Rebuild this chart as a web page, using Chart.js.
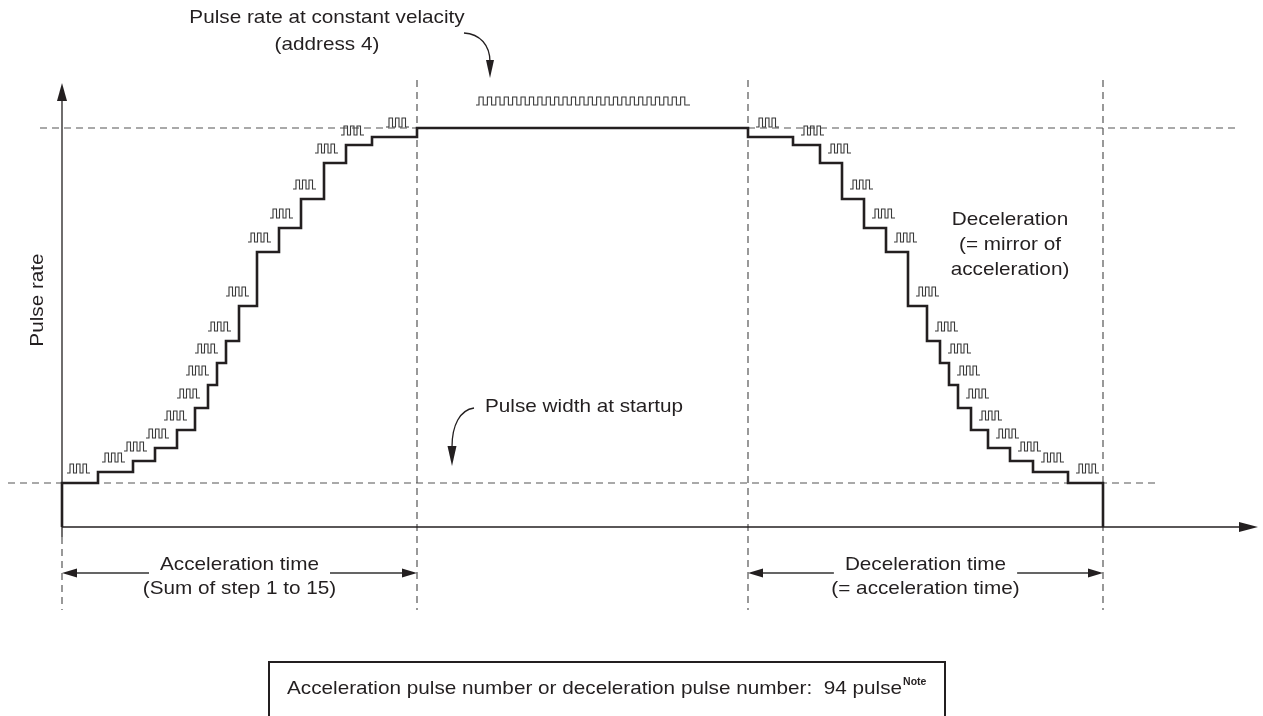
<!DOCTYPE html>
<html>
<head>
<meta charset="utf-8">
<script src="https://cdn.jsdelivr.net/npm/chart.js@4/dist/chart.umd.min.js"></script>
<style>
  html, body { margin: 0; padding: 0; background: #ffffff; }
  #wrap { width: 1263px; height: 716px; }
</style>
</head>
<body>
<div id="wrap"><canvas id="c" width="1263" height="716"></canvas></div>
<script>
// ---- data (time units / pulse-rate units) ----
const accelStepTimes = [0, 36, 71, 93, 115, 133, 146, 155, 164, 177, 195, 217, 239, 262, 284, 310, 355];
const accelStepRates = [44, 55, 66, 79, 97, 119, 142, 164, 186, 221, 275, 299, 328, 364, 382, 390];
const constantRate = 399;
const decelStepTimes = [686, 731, 758, 780, 802, 824, 846, 865, 878, 887, 896, 909, 926, 948, 971, 1006, 1041];
const decelStepRates = [390, 382, 364, 328, 299, 275, 221, 186, 164, 142, 119, 97, 79, 66, 55, 44];
const constantPulseCount = 25;
const pulseNumber = 94;

// labels
const titleTop = ["Pulse rate at constant velacity", "(address 4)"];
const startupLabel = "Pulse width at startup";
const decelNote = ["Deceleration", "(= mirror of", "acceleration)"];
const accelTimeLabel = ["Acceleration time", "(Sum of step 1 to 15)"];
const decelTimeLabel = ["Deceleration time", "(= acceleration time)"];
const yAxisLabel = "Pulse rate";
const boxText = "Acceleration pulse number or deceleration pulse number:  " + pulseNumber + " pulse";
const boxSup = "Note";

// ---- build the stepped profile from the arrays ----
const profile = [{x: accelStepTimes[0], y: 0}];
for (let i = 0; i < accelStepRates.length; i++) {
  profile.push({x: accelStepTimes[i], y: accelStepRates[i]});
  profile.push({x: accelStepTimes[i + 1], y: accelStepRates[i]});
}
profile.push({x: accelStepTimes[accelStepTimes.length - 1], y: constantRate});
profile.push({x: decelStepTimes[0], y: constantRate});
for (let i = 0; i < decelStepRates.length; i++) {
  profile.push({x: decelStepTimes[i], y: decelStepRates[i]});
  profile.push({x: decelStepTimes[i + 1], y: decelStepRates[i]});
}
profile.push({x: decelStepTimes[decelStepTimes.length - 1], y: 0});

const FONT = '"Liberation Sans", Arial, Helvetica, sans-serif';
const SX = 1.12;
const INK = '#231f20';

function text(ctx, s, x, y, align, size, bold, sx) {
  ctx.save();
  ctx.font = (bold ? 'bold ' : '') + size + 'px ' + FONT;
  ctx.textBaseline = 'middle';
  ctx.textAlign = align || 'center';
  ctx.fillStyle = INK;
  ctx.translate(x, y);
  ctx.scale(sx || SX, 1);
  ctx.fillText(s, 0, 0);
  ctx.restore();
}
function textWidth(ctx, s, size, bold, sx) {
  ctx.save();
  ctx.font = (bold ? 'bold ' : '') + size + 'px ' + FONT;
  const w = ctx.measureText(s).width * (sx || SX);
  ctx.restore();
  return w;
}
function dashLine(ctx, x1, y1, x2, y2) {
  ctx.save();
  ctx.strokeStyle = '#555';
  ctx.lineWidth = 1.2;
  ctx.setLineDash([7, 5]);
  ctx.beginPath(); ctx.moveTo(x1, y1); ctx.lineTo(x2, y2); ctx.stroke();
  ctx.restore();
}
function head(ctx, tipX, tipY, dirX, dirY, len, hw) {
  const bx = tipX - dirX * len, by = tipY - dirY * len;
  const px = -dirY, py = dirX;
  ctx.beginPath();
  ctx.moveTo(tipX, tipY);
  ctx.lineTo(bx + px * hw, by + py * hw);
  ctx.lineTo(bx - px * hw, by - py * hw);
  ctx.closePath();
  ctx.fill();
}
function pulseIcon(ctx, left, bottom) {
  const h = 9;
  const seq = [3, 3.5, 3, 3.5, 3, 3.5, 3.5]; // low, high, low, high, low, high, low
  ctx.save();
  ctx.strokeStyle = '#3a3a3a';
  ctx.lineWidth = 1.1;
  ctx.beginPath();
  let x = left, high = false;
  ctx.moveTo(x, bottom);
  for (let i = 0; i < seq.length; i++) {
    x += seq[i];
    ctx.lineTo(x, high ? bottom - h : bottom);
    if (i < seq.length - 1) {
      high = !high;
      ctx.lineTo(x, high ? bottom - h : bottom);
    }
  }
  ctx.stroke();
  ctx.restore();
}

const decor = {
  id: 'decor',
  beforeDatasetsDraw(chart) {
    const ctx = chart.ctx, xs = chart.scales.x, ys = chart.scales.y;
    const X = v => xs.getPixelForValue(v), Y = v => ys.getPixelForValue(v);
    const x0 = X(accelStepTimes[0]);
    const xA = X(accelStepTimes[accelStepTimes.length - 1]);
    const xD = X(decelStepTimes[0]);
    const xE = X(decelStepTimes[decelStepTimes.length - 1]);
    const yTop = Y(constantRate), yBase = Y(accelStepRates[0]), yAxis = Y(0);
    // dashed guide lines
    dashLine(ctx, 40, yTop, 1240, yTop);
    dashLine(ctx, 8, yBase, 1155, yBase);
    dashLine(ctx, xA, 80, xA, 610);
    dashLine(ctx, xD, 80, xD, 610);
    dashLine(ctx, xE, 80, xE, 610);
    dashLine(ctx, x0, yAxis + 10, x0, 610);
    // axes
    ctx.save();
    ctx.strokeStyle = INK; ctx.fillStyle = INK; ctx.lineWidth = 1.3;
    ctx.beginPath(); ctx.moveTo(x0, yAxis + 10); ctx.lineTo(x0, 98); ctx.stroke();
    head(ctx, x0, 83, 0, -1, 18, 5);
    ctx.lineWidth = 1.6;
    ctx.beginPath(); ctx.moveTo(x0, yAxis); ctx.lineTo(1242, yAxis); ctx.stroke();
    head(ctx, 1258, yAxis, 1, 0, 19, 5);
    ctx.restore();
  },
  afterDraw(chart) {
    const ctx = chart.ctx, xs = chart.scales.x, ys = chart.scales.y;
    const X = v => xs.getPixelForValue(v), Y = v => ys.getPixelForValue(v);
    // pulse icons over each step
    for (let i = 0; i < accelStepRates.length; i++) {
      pulseIcon(ctx, X(accelStepTimes[i + 1]) - 8 - 23, Y(accelStepRates[i]) - 10);
    }
    for (let i = 0; i < decelStepRates.length; i++) {
      pulseIcon(ctx, X(decelStepTimes[i]) + 8, Y(decelStepRates[i]) - 10);
    }
    // constant-velocity pulse train
    const cMid = (X(accelStepTimes[accelStepTimes.length - 1]) + X(decelStepTimes[0])) / 2;
    const period = 8.4, trainW = 7 + constantPulseCount * period;
    const tl = cMid - trainW / 2 + 2, tb = Y(constantRate) - 23;
    ctx.save();
    ctx.strokeStyle = '#3a3a3a'; ctx.lineWidth = 1.1;
    ctx.beginPath();
    let x = tl; ctx.moveTo(x, tb); x += 3; ctx.lineTo(x, tb);
    for (let k = 0; k < constantPulseCount; k++) {
      ctx.lineTo(x, tb - 8); x += period / 2; ctx.lineTo(x, tb - 8); ctx.lineTo(x, tb); x += period / 2; ctx.lineTo(x, tb);
    }
    x += 1; ctx.lineTo(x, tb);
    ctx.stroke();
    ctx.restore();

    // curved arrows
    ctx.save();
    ctx.strokeStyle = INK; ctx.fillStyle = INK; ctx.lineWidth = 1.3;
    ctx.beginPath(); ctx.moveTo(464, 33); ctx.bezierCurveTo(480, 34, 490, 45, 490, 62); ctx.stroke();
    head(ctx, 490, 78, 0, 1, 18, 4);
    ctx.beginPath(); ctx.moveTo(474, 408); ctx.bezierCurveTo(460, 410, 452, 425, 452, 447); ctx.stroke();
    head(ctx, 452, 466, 0, 1, 20, 4.5);
    ctx.restore();

    const FS = 18.5;
    // top annotation
    text(ctx, titleTop[0], 327, 18, 'center', FS);
    text(ctx, titleTop[1], 327, 45, 'center', FS);
    // startup
    text(ctx, startupLabel, 485, 407, 'left', FS);
    // deceleration note
    text(ctx, decelNote[0], 1010, 220, 'center', FS);
    text(ctx, decelNote[1], 1010, 245, 'center', FS);
    text(ctx, decelNote[2], 1010, 270, 'center', FS);
    // y label
    ctx.save();
    ctx.translate(38, 300); ctx.rotate(-Math.PI / 2);
    text(ctx, yAxisLabel, 0, 0, 'center', FS);
    ctx.restore();

    // time spans
    const spans = [
      [X(accelStepTimes[0]), X(accelStepTimes[accelStepTimes.length - 1]), accelTimeLabel],
      [X(decelStepTimes[0]), X(decelStepTimes[decelStepTimes.length - 1]), decelTimeLabel]
    ];
    const ay = 573;
    spans.forEach(([a, b, lab]) => {
      const mid = (a + b) / 2;
      const hw = textWidth(ctx, lab[0], FS) / 2 + 11;
      text(ctx, lab[0], mid, 565, 'center', FS);
      text(ctx, lab[1], mid, 589, 'center', FS);
      ctx.save();
      ctx.strokeStyle = '#333'; ctx.fillStyle = INK; ctx.lineWidth = 1.4;
      ctx.beginPath();
      ctx.moveTo(a + 10, ay); ctx.lineTo(mid - hw, ay);
      ctx.moveTo(mid + hw, ay); ctx.lineTo(b - 10, ay);
      ctx.stroke();
      head(ctx, a, ay, -1, 0, 15, 4.5);
      head(ctx, b, ay, 1, 0, 15, 4.5);
      ctx.restore();
    });

    // note box
    ctx.save();
    ctx.strokeStyle = INK; ctx.lineWidth = 2;
    ctx.beginPath();
    ctx.moveTo(269, 720); ctx.lineTo(269, 662); ctx.lineTo(945, 662); ctx.lineTo(945, 720);
    ctx.stroke();
    ctx.restore();
    text(ctx, boxText, 287, 689, 'left', FS);
    const bw = textWidth(ctx, boxText, FS);
    text(ctx, boxSup, 287 + bw + 1, 682, 'left', 10, true, 1.05);
  }
};

new Chart(document.getElementById('c'), {
  type: 'line',
  data: {
    datasets: [{
      data: profile,
      borderColor: INK,
      borderWidth: 2.6,
      pointRadius: 0,
      fill: false,
      tension: 0,
      borderJoinStyle: 'miter',
      clip: false
    }]
  },
  options: {
    responsive: false,
    animation: false,
    devicePixelRatio: 1,
    layout: { padding: 0 },
    plugins: { legend: { display: false }, tooltip: { enabled: false } },
    scales: {
      x: { type: 'linear', min: -62, max: 1201, display: false },
      y: { type: 'linear', min: -189, max: 527, display: false }
    }
  },
  plugins: [decor]
});
</script>
</body>
</html>
